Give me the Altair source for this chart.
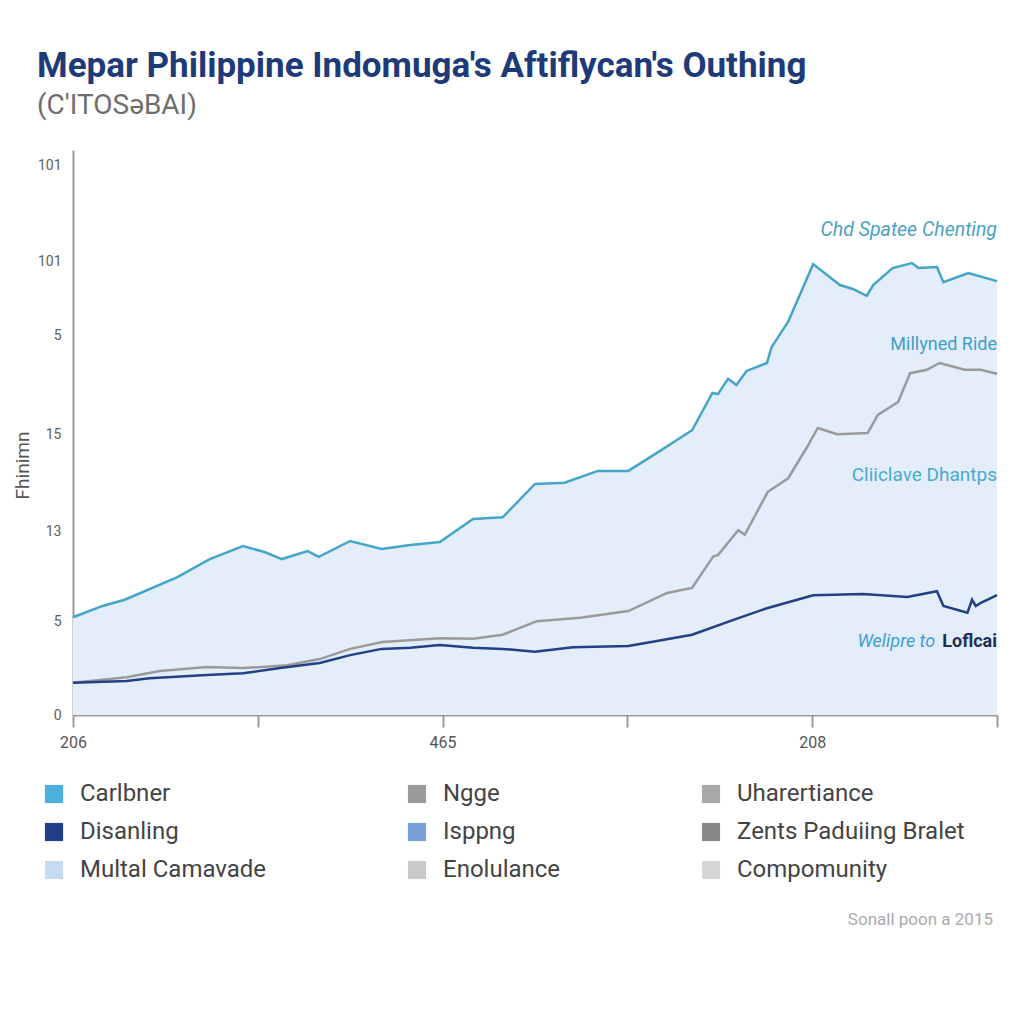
import altair as alt
import pandas as pd

# ---- data (x: 0-100 along axis, y: 0-100 of axis height)
teal_x = [0, 3.2, 5.6, 11.3, 14.8, 18.4, 20.8, 22.6, 25.4, 26.6, 30.0, 33.4, 36.5, 39.7, 43.3, 46.5,
          50.0, 53.2, 56.8, 60.1, 63.2, 67.0, 69.2, 69.8, 70.9, 71.8, 72.9, 75.1, 75.6, 77.4, 80.1,
          83.0, 84.4, 85.9, 86.6, 88.7, 90.8, 91.5, 93.5, 94.2, 96.9, 100]
teal_y = [17.3, 19.3, 20.4, 24.4, 27.6, 29.9, 28.8, 27.6, 29.0, 28.0, 30.8, 29.4, 30.1, 30.6, 34.7, 35.0,
          40.9, 41.1, 43.2, 43.2, 46.4, 50.4, 57.0, 56.8, 59.5, 58.4, 60.9, 62.3, 65.1, 69.6, 79.8,
          76.1, 75.4, 74.2, 76.1, 79.1, 80.0, 79.1, 79.3, 76.6, 78.2, 76.8]

gray_x = [0, 5.8, 9.4, 14.5, 18.4, 23.2, 26.7, 30.0, 33.5, 39.7, 43.3, 46.5, 50.2, 54.9, 60.1, 64.3,
          67.0, 69.3, 69.8, 72.0, 72.7, 75.2, 77.4, 79.4, 80.6, 82.7, 86.0, 87.1, 89.3, 90.6, 92.4,
          93.8, 96.5, 98.2, 100]
gray_y = [5.7, 6.7, 7.8, 8.5, 8.3, 8.8, 9.9, 11.7, 12.9, 13.6, 13.5, 14.2, 16.6, 17.2, 18.4, 21.6,
          22.5, 28.1, 28.3, 32.7, 31.9, 39.5, 41.9, 47.3, 50.8, 49.7, 49.9, 53.1, 55.4, 60.5, 61.1,
          62.3, 61.1, 61.1, 60.4]

navy_x = [0, 5.8, 8.3, 14.5, 18.4, 22.4, 26.7, 30.0, 33.4, 36.5, 39.7, 43.3, 46.5, 50.0, 54.1, 60.1,
          63.2, 67.0, 71.4, 75.1, 80.1, 85.5, 90.3, 93.5, 94.2, 96.8, 97.3, 97.7, 98.2, 100]
navy_y = [5.7, 6.0, 6.5, 7.1, 7.4, 8.3, 9.2, 10.6, 11.7, 11.9, 12.4, 11.9, 11.7, 11.2, 12.0, 12.2,
          13.1, 14.2, 16.8, 18.9, 21.2, 21.4, 20.9, 21.9, 19.3, 18.1, 20.4, 19.3, 19.8, 21.2]

line_names = ["Carlbner", "Ngge", "Disanling"]
line_colors = ["#45a5c8", "#9a9a9a", "#233f85"]

# legend entries, column by column
legend_names = ["Carlbner", "Disanling", "Multal Camavade",
                "Ngge", "Isppng", "Enolulance",
                "Uharertiance", "Zents Paduiing Bralet", "Compomunity"]
legend_colors = ["#4cb0dc", "#1f3f8a", "#c6dbf0",
                 "#9a9a9a", "#7b9fd8", "#c9c9c9",
                 "#a9a9a9", "#888888", "#d6d6d6"]

x_tick_values = [0, 20, 40, 60, 80, 100]
x_tick_labels = ["206", "", "465", "", "208", ""]
y_tick_values = [0, 16.5, 32.4, 49.7, 67.1, 80.2, 97.3]
y_tick_labels = ["0", "5", "13", "15", "5", "101", "101"]

annot_text = ["Chd Spatee Chenting", "Millyned Ride", "Cliiclave Dhantps", "Welipre to", "Loflcai"]
annot_x = [100, 100, 100, 93.3, 100]
annot_y = [85.8, 65.5, 42.5, 12.9, 12.9]
annot_size = [19.5, 18, 19, 18, 18]
annot_color = ["#4aa3c3", "#3f9fcc", "#4aaad0", "#3f9ed4", "#1e2f55"]
annot_style = ["italic", "normal", "normal", "italic", "normal"]
annot_weight = ["normal", "normal", "normal", "normal", "bold"]

# ---- tables
lines = pd.concat([
    pd.DataFrame({"x": teal_x, "y": teal_y, "series": line_names[0]}),
    pd.DataFrame({"x": gray_x, "y": gray_y, "series": line_names[1]}),
    pd.DataFrame({"x": navy_x, "y": navy_y, "series": line_names[2]}),
], ignore_index=True)
area_df = pd.DataFrame({"x": teal_x, "y": teal_y})
legend_df = pd.DataFrame({"item": legend_names})
annot_df = pd.DataFrame({"x": annot_x, "y": annot_y, "text": annot_text, "color": annot_color,
                         "size": annot_size, "style": annot_style, "weight": annot_weight})


def label_expr(values, labels):
    expr = "''"
    for v, l in zip(values, labels):
        expr = f"abs(datum.value - {v}) < 0.01 ? '{l}' : ({expr})"
    return expr


xenc = alt.X("x:Q", scale=alt.Scale(domain=[0, 100], nice=False, zero=False),
             axis=alt.Axis(values=x_tick_values, labelExpr=label_expr(x_tick_values, x_tick_labels),
                           title=None, grid=False, domainColor="#9a9a9a", domainWidth=2,
                           tickColor="#9a9a9a", tickWidth=2, tickSize=12, labelPadding=7,
                           labelFontSize=16, labelColor="#555555", labelFont="Roboto",
                           labelOverlap=False, labelFlush=False))
yenc = alt.Y("y:Q", scale=alt.Scale(domain=[0, 100], nice=False),
             axis=alt.Axis(values=y_tick_values, labelExpr=label_expr(y_tick_values, y_tick_labels),
                           title="Fhinimn", titleFont="Roboto", titleFontSize=19,
                           titleFontWeight="normal", titleColor="#555555", titleX=-41, titleY=315,
                           grid=False, domainColor="#9a9a9a", domainWidth=2, ticks=False,
                           labelPadding=12, labelFontSize=14, labelColor="#5e5e5e",
                           labelFont="Roboto", labelOverlap=False, labelFlush=False))

area = alt.Chart(area_df).mark_area(color="#e3eefa", opacity=1).encode(x=xenc, y=yenc)

line = alt.Chart(lines).mark_line(strokeWidth=2.5).encode(
    x="x:Q", y="y:Q",
    color=alt.Color("series:N", scale=alt.Scale(domain=line_names, range=line_colors), legend=None),
    detail="series:N",
)

legend_layer = alt.Chart(legend_df).mark_square(opacity=0, size=10).encode(
    color=alt.Color("item:N", scale=alt.Scale(domain=legend_names, range=legend_colors),
                    sort=legend_names,
                    legend=alt.Legend(title=None, orient="none", legendX=-31, legendY=632,
                                      columns=3, columnPadding=138, rowPadding=14,
                                      symbolType="square", symbolSize=330, symbolOpacity=1,
                                      symbolStrokeWidth=0, labelFontSize=24, labelColor="#444444",
                                      labelFont="Roboto", labelOffset=14, labelLimit=400))
)

annot_layers = []
for style in ["italic", "normal"]:
    for weight in ["normal", "bold"]:
        sub = annot_df[(annot_df["style"] == style) & (annot_df["weight"] == weight)]
        if len(sub) == 0:
            continue
        annot_layers.append(
            alt.Chart(sub).mark_text(align="right", baseline="middle", font="Roboto",
                                     fontStyle=style, fontWeight=weight).encode(
                x="x:Q", y="y:Q", text="text:N", color=alt.Color("color:N", scale=None),
                size=alt.Size("size:Q", scale=None))
        )

footer = alt.Chart(pd.DataFrame({"t": ["Sonall poon a 2015"]})).mark_text(
    align="right", baseline="middle", fontSize=17, font="Roboto", color="#aaaaaa"
).encode(x=alt.value(920), y=alt.value(770), text="t:N")

chart = alt.layer(area, line, legend_layer, *annot_layers, footer).resolve_scale(
    color="independent"
).properties(
    width=924, height=565,
    title=alt.TitleParams(
        text="Mepar Philippine Indomuga's Aftiflycan's Outhing",
        subtitle="(C'ITOSəBAI)",
        anchor="start", frame="group", dx=-36, offset=30,
        font="Roboto", fontSize=35, fontWeight="bold", color="#1e3a78",
        subtitleFont="Roboto", subtitleFontSize=28, subtitleColor="#6e6e6e", subtitlePadding=8,
    ),
    autosize=alt.AutoSizeParams(type="none"),
    padding={"left": 65, "top": 142, "right": 19, "bottom": 285},
    background="white",
).configure_view(stroke=None)

chart.save("out.html", embed_options={"renderer": "svg", "actions": False})
